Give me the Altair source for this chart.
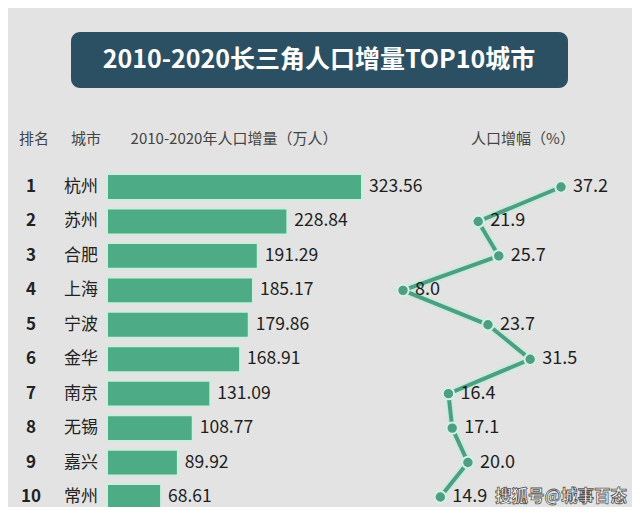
import altair as alt
import pandas as pd

ranks = ["1", "2", "3", "4", "5", "6", "7", "8", "9", "10"]
cities = ["杭州", "苏州", "合肥", "上海", "宁波", "金华", "南京", "无锡", "嘉兴", "常州"]
increase = [323.56, 228.84, 191.29, 185.17, 179.86, 168.91, 131.09, 108.77, 89.92, 68.61]
growth = [37.2, 21.9, 25.7, 8.0, 23.7, 31.5, 16.4, 17.1, 20.0, 14.9]

title_text = "2010-2020长三角人口增量TOP10城市"
headers = ["排名", "城市", "2010-2020年人口增量（万人）", "人口增幅（%）"]
watermark = "搜狐号@城事百态"

FONT = "Noto Sans CJK SC"
GREEN = "#4dab85"
LINE = "#4f9e83"

df = pd.DataFrame({
    "rank": ranks,
    "city": cities,
    "inc": increase,
    "inc_label": [f"{v:.2f}" for v in increase],
    "g": growth,
    "g_label": [f"{v:.1f}" for v in growth],
    "order": list(range(10)),
})

yscale = alt.Scale(domain=ranks, range=[161.8, 506.2], paddingInner=0.25, paddingOuter=0.125)
Y = alt.Y("rank:N", scale=yscale, axis=None)

xbar = alt.X("inc:Q", scale=alt.Scale(domain=[0, 323.56], range=[99, 354]), axis=None)
xline = alt.X("g:Q", scale=alt.Scale(domain=[0, 37.2], range=[351.7, 553]), axis=None)

base = alt.Chart(df)

bars = base.mark_bar(color=GREEN, stroke="#cdeedd", strokeWidth=2).encode(x=xbar, y=Y)
bar_labels = base.mark_text(align="left", baseline="middle", dx=7, font=FONT, fontSize=17.5, color="#1e1e1e").encode(
    x=xbar, y=Y, text="inc_label:N")

rank_text = base.mark_text(align="center", baseline="middle", font=FONT, fontSize=17, fontWeight="bold", color="#222").encode(
    x=alt.value(23), y=Y, text="rank:N")
city_text = base.mark_text(align="center", baseline="middle", font=FONT, fontSize=17, color="#222").encode(
    x=alt.value(73), y=Y, text="city:N")

line_halo = base.mark_line(color="#c8ecdb", strokeWidth=8).encode(x=xline, y=Y, order="order:Q")
line = base.mark_line(color=LINE, strokeWidth=4).encode(x=xline, y=Y, order="order:Q")
pts = base.mark_point(filled=True, color=LINE, size=130, opacity=1, stroke="#d2f1e3", strokeWidth=2).encode(x=xline, y=Y)
pt_labels = base.mark_text(align="left", baseline="middle", dx=12, font=FONT, fontSize=18, color="#1e1e1e").encode(
    x=xline, y=Y, text="g_label:N")

one = alt.Chart(pd.DataFrame({"a": [0]}))
title_box = one.mark_rect(color="#2b4f63", cornerRadius=9).encode(
    x=alt.value(63), x2=alt.value(560), y=alt.value(24), y2=alt.value(80))
title_mark = alt.Chart(pd.DataFrame({"t": [title_text]})).mark_text(
    align="center", baseline="middle", font=FONT, fontSize=25, fontWeight="bold", color="white").encode(
    x=alt.value(311), y=alt.value(52), text="t:N")

hdr_df = pd.DataFrame({"h": headers, "px": [26, 78, 226, 515]})
hdr = alt.Chart(hdr_df).mark_text(align="center", baseline="middle", font=FONT, fontSize=15, color="#444").encode(
    x=alt.X("px:Q", scale=alt.Scale(domain=[0, 624], range=[0, 624]), axis=None),
    y=alt.value(131), text="h:N")

wm = alt.Chart(pd.DataFrame({"w": [watermark]})).mark_text(
    align="center", baseline="middle", font=FONT, fontSize=16.5, fontWeight="bold", color="white",
    stroke="#555", strokeWidth=0.8).encode(x=alt.value(553), y=alt.value(489), text="w:N")

chart = alt.layer(
    title_box, title_mark, hdr,
    bars, bar_labels, rank_text, city_text,
    line_halo, line, pts, pt_labels, wm
).resolve_scale(x="independent").properties(
    width=624, height=499, autosize="none", padding=0, background="#e3e3e3"
).configure_view(stroke=None)

chart.save("out.html", embed_options={"renderer": "svg", "actions": False})
